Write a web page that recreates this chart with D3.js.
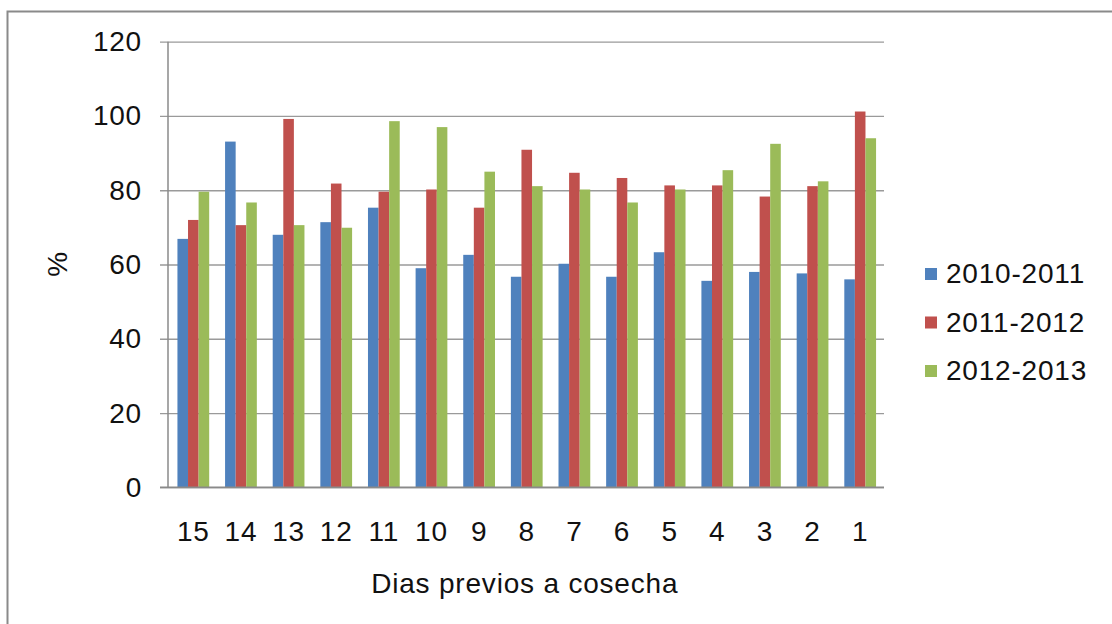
<!DOCTYPE html>
<html>
<head>
<meta charset="utf-8">
<script src="https://cdn.jsdelivr.net/npm/d3@7"></script>
<style>
  html, body { margin: 0; padding: 0; background: #fff; }
  svg { display: block; }
  text { font-family: "Liberation Sans", Arial, sans-serif; fill: #111; letter-spacing: 0.8px; }
</style>
</head>
<body>
<svg id="chart" width="1112" height="624"></svg>
<script>
// Days before harvest, shown from 15 down to 1
const days = ["15","14","13","12","11","10","9","8","7","6","5","4","3","2","1"];
const seasons = ["2010-2011", "2011-2012", "2012-2013"];
const values2010 = [66.9, 93.1, 68.0, 71.4, 75.3, 59.0, 62.6, 56.7, 60.2, 56.7, 63.3, 55.6, 58.0, 57.6, 56.0];
const values2011 = [72.0, 70.6, 99.2, 81.8, 79.6, 80.2, 75.3, 90.9, 84.7, 83.3, 81.3, 81.3, 78.3, 81.1, 101.2];
const values2012 = [79.6, 76.7, 70.6, 69.9, 98.6, 97.0, 85.0, 81.1, 80.2, 76.7, 80.2, 85.4, 92.5, 82.4, 94.0];
const yTicks = [0, 20, 40, 60, 80, 100, 120];
const colors = ["#4F81BD", "#C0504D", "#9BBB59"];

const seriesValues = [values2010, values2011, values2012];
const rows = days.map((d, i) => ({
  day: d,
  vals: seasons.map((s, k) => ({ season: s, value: seriesValues[k][i] }))
}));

const svg = d3.select("#chart");

// Outer chart frame
svg.append("rect")
  .attr("x", 7.5).attr("y", 11.5)
  .attr("width", 1112).attr("height", 624)
  .attr("fill", "none").attr("stroke", "#8a8a8a").attr("stroke-width", 2);

const plot = { left: 169.5, right: 884, top: 41.7, bottom: 487.3 };

const x0 = d3.scaleBand()
  .domain(days)
  .range([plot.left, plot.right])
  .paddingInner(1 / 3)
  .paddingOuter(1 / 6);

const x1 = d3.scaleBand()
  .domain(seasons)
  .range([0, x0.bandwidth()]);

const y = d3.scaleLinear().domain([0, 120]).range([plot.bottom, plot.top]);
const color = d3.scaleOrdinal().domain(seasons).range(colors);

// Horizontal gridlines with short tick marks left of the axis
const yAxis = d3.axisLeft(y).tickValues(yTicks)
  .tickSize(-(plot.right - 160))
  .tickPadding(18)
  .tickFormat(d3.format("d"));

const gy = svg.append("g")
  .attr("transform", `translate(160,0)`)
  .call(yAxis);
gy.select(".domain").remove();
gy.selectAll(".tick line")
  .attr("stroke", "#9a9a9a").attr("stroke-width", 1.3)
  .attr("x1", 0).attr("x2", plot.right - 160);
gy.selectAll(".tick text")
  .attr("x", -18)
  .style("font-size", "28px")
  .style("font-family", "'Liberation Sans', Arial, sans-serif")
  .attr("fill", "#111");

// Vertical value axis line
svg.append("line")
  .attr("x1", 168).attr("x2", 168)
  .attr("y1", plot.top).attr("y2", plot.bottom)
  .attr("stroke", "#8a8a8a").attr("stroke-width", 1.5);

// Bars
svg.append("g")
  .selectAll("g")
  .data(rows)
  .join("g")
  .attr("transform", d => `translate(${x0(d.day)},0)`)
  .selectAll("rect")
  .data(d => d.vals)
  .join("rect")
  .attr("x", d => x1(d.season))
  .attr("y", d => y(d.value))
  .attr("width", x1.bandwidth())
  .attr("height", d => y(0) - y(d.value))
  .attr("fill", d => color(d.season));

// Category axis
const xAxis = d3.axisBottom(x0).tickSize(0).tickPadding(0);
const gx = svg.append("g")
  .attr("transform", `translate(0,${plot.bottom})`)
  .call(xAxis);
gx.select(".domain")
  .attr("d", `M160,0H${plot.right}`)
  .attr("stroke", "#8a8a8a").attr("stroke-width", 1.5);
gx.selectAll(".tick text")
  .attr("y", 54)
  .attr("dy", null)
  .style("font-size", "28px")
  .style("font-family", "'Liberation Sans', Arial, sans-serif")
  .attr("fill", "#111");

// Axis titles
svg.append("text")
  .attr("x", (plot.left + plot.right) / 2 - 2)
  .attr("y", 593)
  .attr("text-anchor", "middle")
  .style("font-size", "28px")
  .text("Dias previos a cosecha");

svg.append("text")
  .attr("transform", "translate(67,264) rotate(-90)")
  .attr("text-anchor", "middle")
  .style("font-size", "28px")
  .text("%");

// Legend
const legend = svg.append("g")
  .selectAll("g")
  .data(seasons)
  .join("g")
  .attr("transform", (d, i) => `translate(925,${283 + i * 48.5})`);
legend.append("rect")
  .attr("x", 0).attr("y", -15)
  .attr("width", 12).attr("height", 12)
  .attr("fill", d => color(d));
legend.append("text")
  .attr("x", 21).attr("y", 0)
  .style("font-size", "28px")
  .text(d => d);
</script>
</body>
</html>
